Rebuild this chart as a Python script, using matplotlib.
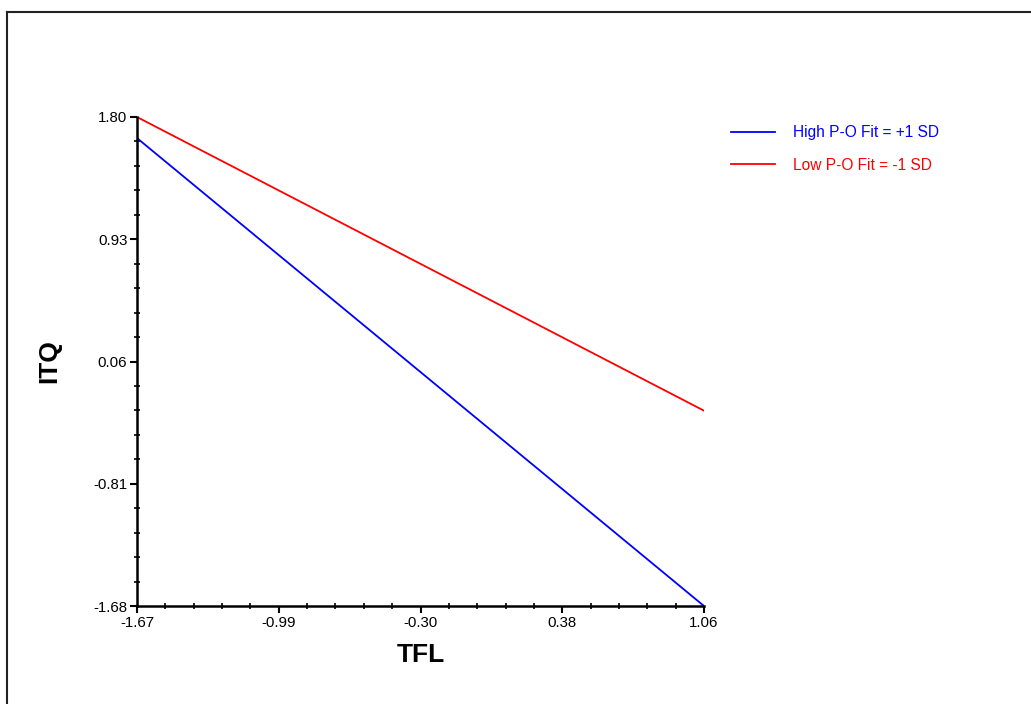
import numpy as np
import matplotlib
matplotlib.use("Agg")
from matplotlib import pyplot as plt
from matplotlib.lines import Line2D
from matplotlib.ticker import AutoMinorLocator

plt.rcParams['font.family'] = ['Liberation Sans', 'DejaVu Sans']

# datos
tfl = [-1.67, 1.06]
itq_high = [1.65, -1.68]   # High P-O Fit = +1 SD
itq_low = [1.80, -0.29]    # Low P-O Fit = -1 SD
x_labels = ["-1.67", "-0.99", "-0.30", "0.38", "1.06"]
y_labels = ["1.80", "0.93", "0.06", "-0.81", "-1.68"]
serie_names = ["High P-O Fit = +1 SD", "Low P-O Fit = -1 SD"]

fig = plt.figure(figsize=(10.31, 7.04), dpi=100)
ax = fig.add_axes([137/1031, 1 - 606/704, (704-137)/1031, (606-117)/704])

ax.plot(tfl, itq_high, color="#0000ff", lw=1.3, label=serie_names[0])
ax.plot(tfl, itq_low, color="#ff0000", lw=1.3, label=serie_names[1])

ax.set_xlim(tfl[0], tfl[1])
ax.set_ylim(float(y_labels[-1]), float(y_labels[0]))
ax.set_xticks(np.linspace(tfl[0], tfl[1], len(x_labels)))
ax.set_xticklabels(x_labels)
ax.set_yticks(np.linspace(float(y_labels[-1]), float(y_labels[0]), len(y_labels)))
ax.set_yticklabels(y_labels[::-1])
ax.xaxis.set_minor_locator(AutoMinorLocator(5))
ax.yaxis.set_minor_locator(AutoMinorLocator(5))
ax.tick_params(which="major", direction="out", length=5, width=1.5, labelsize=10.8, pad=2)
ax.tick_params(which="minor", direction="inout", length=5, width=1.2)

for s in ["top", "right"]:
    ax.spines[s].set_visible(False)
for s in ["left", "bottom"]:
    ax.spines[s].set_linewidth(1.8)

ax.set_xlabel("TFL", fontsize=19, fontweight="bold")
ax.set_ylabel("ITQ", fontsize=19, fontweight="bold")
ax.xaxis.set_label_coords(0.5, -0.075)
ax.yaxis.set_label_coords(-0.133, 0.5)

fig.legend(loc="upper left", bbox_to_anchor=(731/1031, 1 - 125/704), frameon=False,
           fontsize=11.2, handlelength=2.8, handletextpad=1.2, labelspacing=1.15,
           borderpad=0, borderaxespad=0, labelcolor="linecolor")

# marco de la figura
fig.add_artist(Line2D([7/1031, 7/1031], [0, 1 - 11.5/704], color="#222222", lw=1.5))
fig.add_artist(Line2D([7/1031, 1], [1 - 11.5/704, 1 - 11.5/704], color="#222222", lw=1.5))

fig.savefig("out.png", dpi=100)
